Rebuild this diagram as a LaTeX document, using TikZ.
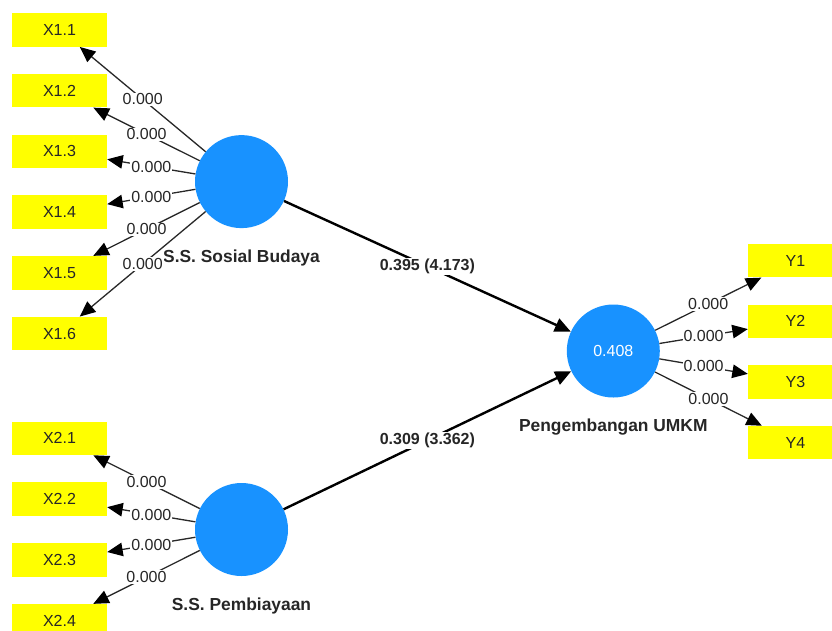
\documentclass[tikz,border=0pt]{standalone}
\usepackage{fontspec}
\setmainfont{Liberation Sans}
\usetikzlibrary{arrows.meta}
\definecolor{latentblue}{RGB}{24,146,255}
\definecolor{itemyellow}{RGB}{255,255,0}
\definecolor{loadgray}{RGB}{40,40,40}
\begin{document}
\begin{tikzpicture}
[x=1pt,y=-1pt,
  boxdecorate/.style={shape=rectangle,fill=itemyellow,inner sep=0pt,
    minimum width=95pt,minimum height=33.5pt,text=black!85,
    font=\fontsize{16}{19}\selectfont},%
  circledecorate/.style={shape=circle,fill=latentblue,inner sep=0pt,
    minimum size=93pt,text=white,font=\fontsize{16}{19}\selectfont},
  namedecorate/.style={inner sep=0pt,text=black!85,
    font=\fontsize{17.4}{20}\selectfont\bfseries},
  valuedecorate/.style={fill=white,inner sep=1pt,text=black!85,
    font=\fontsize{16}{19}\selectfont},
  arrowdecorate/.style={-{Triangle[length=15.5pt,width=13.5pt,color=black]},
    draw=loadgray,line width=1.3pt},
  pathdecorate/.style={-{Triangle[length=16pt,width=14pt]},draw=black,
    line width=2.4pt}]
\useasboundingbox (0,0) rectangle (832,630);
%% latent variables
\foreach \nodename/\x/\y/\nodetext/\nametext in {sosial/241.5/181.6//S.S. Sosial Budaya,
  biaya/241.5/529.5//S.S. Pembiayaan, umkm/613.3/351/0.408/Pengembangan UMKM} {
  \node (\nodename) at (\x,\y) [circledecorate] {\nodetext};
  \node [below=21pt,namedecorate] at (\nodename.south) {\nametext};
}
%% indicators
\foreach \nodename/\y/\itemtext in {x11/30/X1.1, x12/90.7/X1.2, x13/151.4/X1.3,
  x14/212.1/X1.4, x15/272.8/X1.5, x16/333.5/X1.6, x21/438.3/X2.1,
  x22/499.2/X2.2, x23/560/X2.3, x24/620.8/X2.4} {
  \node (\nodename) at (59.5,\y) [boxdecorate] {\itemtext};
}
\foreach \nodename/\y/\itemtext in {y1/260.7/Y1, y2/321.3/Y2, y3/382/Y3,
  y4/442.7/Y4} {
  \node (\nodename) at (795.5,\y) [boxdecorate] {\itemtext};
}
%% outer loadings
\path
\foreach \startnode/\endnode in {sosial/x11, sosial/x12, sosial/x13, sosial/x14,
  sosial/x15, sosial/x16, biaya/x21, biaya/x22, biaya/x23, biaya/x24,
  umkm/y1, umkm/y2, umkm/y3, umkm/y4} {
  (\startnode) edge[arrowdecorate] node[valuedecorate] {0.000} (\endnode)
};
%% path coefficients
\draw[pathdecorate] (sosial) -- node[valuedecorate,font=\fontsize{16}{19}\selectfont\bfseries]
  {0.395 (4.173)} (umkm);
\draw[pathdecorate] (biaya) -- node[valuedecorate,font=\fontsize{16}{19}\selectfont\bfseries]
  {0.309 (3.362)} (umkm);
\end{tikzpicture}
\end{document}
